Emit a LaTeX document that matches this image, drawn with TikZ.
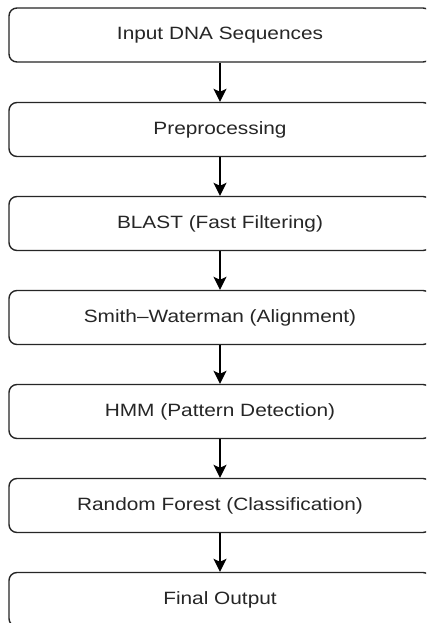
\documentclass[tikz,border=0pt]{standalone}
\usepackage{fontspec}
\usepackage{graphicx}
\setmainfont{Liberation Sans}
\usetikzlibrary{arrows.meta}
\tikzset{
  stepbox/.style={draw=black!85, line width=1.4pt, rounded corners=8pt,
    minimum width=422pt, minimum height=54pt, inner sep=0pt, fill=white,
    font=\fontsize{17.8pt}{20pt}\selectfont, text=black!85},
  flow/.style={draw=black, line width=1.5pt, -{Stealth[length=13pt,width=13pt,inset=3pt]}}
}
\newcommand{\wtxt}[1]{\scalebox{1.17}[1]{#1}}
\begin{document}
\begin{tikzpicture}[x=1pt,y=-1pt]
\useasboundingbox (0,0) rectangle (426,623);
\clip (0,0) rectangle (426,623);
\fill[white] (0,0) rectangle (426,623);
\node[stepbox] (b1) at (220,35) {\wtxt{Input DNA Sequences}};
\node[stepbox] (b2) at (220,129.5) {\wtxt{Preprocessing}};
\node[stepbox] (b3) at (220,223.5) {\wtxt{BLAST (Fast Filtering)}};
\node[stepbox] (b4) at (220,317.5) {\wtxt{Smith–Waterman (Alignment)}};
\node[stepbox] (b5) at (220,411.5) {\wtxt{HMM (Pattern Detection)}};
\node[stepbox] (b6) at (220,505.5) {\wtxt{Random Forest (Classification)}};
\node[stepbox] (b7) at (220,599.5) {\wtxt{Final Output}};
\draw[flow] (b1) -- (b2);
\draw[flow] (b2) -- (b3);
\draw[flow] (b3) -- (b4);
\draw[flow] (b4) -- (b5);
\draw[flow] (b5) -- (b6);
\draw[flow] (b6) -- (b7);
\end{tikzpicture}
\end{document}
